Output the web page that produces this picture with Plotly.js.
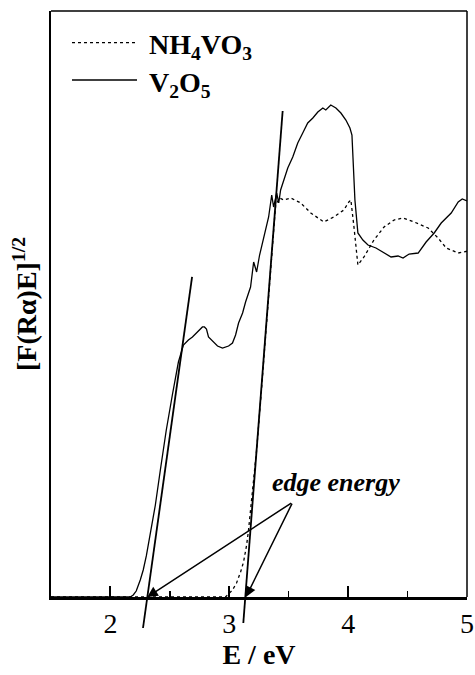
<!DOCTYPE html>
<html>
<head>
<meta charset="utf-8">
<script src="https://cdn.plot.ly/plotly-3.0.1.min.js"></script>
<style>html,body{margin:0;padding:0;background:#fff;}#chart{width:475px;height:675px;}</style>
</head>
<body>
<div id="chart"></div>
<script>
// ---- data ----
const seriesNames = ["NH<sub>4</sub>VO<sub>3</sub>", "V<sub>2</sub>O<sub>5</sub>"];

const v2o5E = [1.50, 2.124, 2.167, 2.192, 2.217, 2.251, 2.276, 2.302, 2.335, 2.378, 2.420, 2.470, 2.521, 2.572, 2.614,
  2.656, 2.690, 2.732, 2.774, 2.791, 2.808, 2.825, 2.859, 2.901, 2.943, 2.994, 3.027, 3.053, 3.078, 3.112,
  3.137, 3.162, 3.179, 3.205, 3.230, 3.255, 3.281, 3.306, 3.331, 3.357, 3.373, 3.399, 3.416, 3.432, 3.458,
  3.492, 3.534, 3.576, 3.618, 3.660, 3.703, 3.745, 3.787, 3.812, 3.854, 3.897, 3.939, 3.981, 4.015, 4.032,
  4.057, 4.082, 4.124, 4.167, 4.234, 4.302, 4.361, 4.420, 4.462, 4.513, 4.589, 4.656, 4.724, 4.783, 4.867,
  4.926, 4.960, 5.00];
const v2o5I = [0, 0, 0, 0.34, 1.02, 2.90, 4.61, 7.00, 10.58, 15.70, 21.67, 28.50, 34.47, 40.10, 43.00,
  43.86, 44.37, 45.22, 46.08, 46.08, 45.73, 44.37, 43.69, 42.83, 42.49, 42.83, 43.34, 44.71, 46.76, 48.46,
  50.34, 52.05, 52.90, 57.17, 55.46, 58.36, 60.41, 62.63, 64.85, 68.60, 66.55, 68.94, 67.24, 69.45, 71.16,
  73.21, 75.09, 77.47, 79.18, 80.89, 81.74, 82.76, 83.45, 83.11, 83.96, 83.45, 82.59, 81.40, 80.03, 78.84,
  67.75, 62.12, 60.92, 60.07, 59.56, 58.70, 58.02, 58.19, 57.85, 58.53, 58.70, 60.58, 62.12, 63.82, 65.53,
  67.41, 67.92, 67.6];

const nh4E = [1.50, 2.968, 3.027, 3.061, 3.095, 3.120, 3.146, 3.162, 3.196, 3.230, 3.264, 3.297, 3.331, 3.365,
  3.390, 3.424, 3.458, 3.517, 3.601, 3.686, 3.753, 3.795, 3.880, 3.964, 4.006, 4.023, 4.049, 4.082, 4.133,
  4.217, 4.302, 4.386, 4.462, 4.555, 4.673, 4.757, 4.825, 4.926, 5.00];
const nh4I = [0, 0, 1.19, 2.39, 4.27, 5.97, 8.87, 11.43, 18.26, 25.09, 33.62, 42.15, 51.54, 60.92,
  66.89, 68.09, 67.75, 68.09, 67.24, 65.53, 64.51, 64.00, 64.85, 66.04, 67.41, 67.75, 63.14, 56.66, 58.02,
  60.92, 63.14, 64.33, 64.68, 64.00, 62.97, 61.26, 59.56, 58.70, 59.0];

// tangent lines used to find the edge energies
const tan1E = [2.274, 2.687];
const tan1I = [-5.29, 54.61];
const tan2E = [3.118, 3.449];
const tan2I = [-4.44, 82.94];

// edge energies (arrow targets) and label anchor
const edgeEnergies = [2.31, 3.14];
const edgeLabel = "edge energy";
const edgeLabelPos = [3.897, 19.6];
const edgeArrowTail = [3.534, 16.2];

const xTickVals = [2, 3, 4, 5];
const xTickText = ["2", "3", "4", "5"];
const xRange = [1.5, 5];
const yRange = [0, 100];

// ---- layout geometry ----
const W = 475, H = 675;
const mL = 51, mR = 8, mT = 11, mB = 35;
const plotBottomPx = 597;
const paperH = H - mT - mB;
const mainBottom = (H - mB - plotBottomPx) / paperH;
const pxPerUnitY = (plotBottomPx - mT) / (yRange[1] - yRange[0]);
const y2Range = [yRange[0] - (H - mB - plotBottomPx) / pxPerUnitY, yRange[1]];

const serif = "Liberation Serif, Times New Roman, serif";

const traces = [
  {x: nh4E, y: nh4I, xaxis: 'x', yaxis: 'y', mode: 'lines', name: seriesNames[0],
   line: {color: '#000', width: 1.3, dash: 'dot'}, hoverinfo: 'skip'},
  {x: v2o5E, y: v2o5I, xaxis: 'x', yaxis: 'y', mode: 'lines', name: seriesNames[1],
   line: {color: '#000', width: 1.3}, hoverinfo: 'skip'},
  {x: tan1E, y: tan1I, xaxis: 'x2', yaxis: 'y2', mode: 'lines',
   line: {color: '#000', width: 1.8}, hoverinfo: 'skip'},
  {x: tan2E, y: tan2I, xaxis: 'x2', yaxis: 'y2', mode: 'lines',
   line: {color: '#000', width: 1.8}, hoverinfo: 'skip'}
];

// legend drawn manually (long sample lines as in the reference)
const legRowsPx = [42.7, 80];
const legLineX = [(72 - mL) / (W - mL - mR), (137 - mL) / (W - mL - mR)];
const legTextX = (147 - mL) / (W - mL - mR);
const toPaperY = py => (H - mB - py) / paperH;

const shapes = [
  {type: 'line', xref: 'paper', yref: 'paper', x0: legLineX[0], x1: legLineX[1],
   y0: toPaperY(legRowsPx[0]), y1: toPaperY(legRowsPx[0]), line: {color: '#000', width: 1.3, dash: 'dot'}},
  {type: 'line', xref: 'paper', yref: 'paper', x0: legLineX[0], x1: legLineX[1],
   y0: toPaperY(legRowsPx[1]), y1: toPaperY(legRowsPx[1]), line: {color: '#000', width: 1.3}},
  // top and right frame
  {type: 'line', xref: 'paper', yref: 'paper', x0: 0, x1: 1, y0: 1, y1: 1, line: {color: '#000', width: 1.5}},
  {type: 'line', xref: 'paper', yref: 'paper', x0: 1, x1: 1, y0: mainBottom, y1: 1, line: {color: '#000', width: 1.5}}
];

const annotations = [
  {xref: 'paper', yref: 'paper', x: legTextX, y: toPaperY(legRowsPx[0] + 4), xanchor: 'left', yanchor: 'middle',
   text: '<b>' + seriesNames[0] + '</b>', showarrow: false, font: {family: serif, size: 28, color: '#000'}},
  {xref: 'paper', yref: 'paper', x: legTextX, y: toPaperY(legRowsPx[1] + 4), xanchor: 'left', yanchor: 'middle',
   text: '<b>' + seriesNames[1] + '</b>', showarrow: false, font: {family: serif, size: 28, color: '#000'}},
  {xref: 'x', yref: 'y', x: edgeLabelPos[0], y: edgeLabelPos[1], xanchor: 'center', yanchor: 'middle',
   text: '<b><i>' + edgeLabel + '</i></b>', showarrow: false, font: {family: serif, size: 26, color: '#000'}}
];
edgeEnergies.forEach(e => {
  annotations.push({xref: 'x', yref: 'y', x: e, y: 0, axref: 'x', ayref: 'y',
    ax: edgeArrowTail[0], ay: edgeArrowTail[1], text: '', showarrow: true,
    arrowhead: 2, arrowsize: 1.4, arrowwidth: 1.5, arrowcolor: '#000', standoff: 0, startstandoff: 0});
});

const layout = {
  width: W, height: H,
  margin: {l: mL, r: mR, t: mT, b: mB, pad: 0},
  paper_bgcolor: '#fff', plot_bgcolor: 'rgba(0,0,0,0)',
  showlegend: false,
  font: {family: serif, color: '#000'},
  xaxis: {domain: [0, 1], anchor: 'y', range: xRange, tickvals: xTickVals, ticktext: xTickText,
    ticks: 'inside', ticklen: 11, tickwidth: 2, tickcolor: '#000',
    minor: {ticks: 'inside', ticklen: 6, tickwidth: 1.5, dtick: 0.5, tick0: 0, tickcolor: '#000'},
    showline: true, linecolor: '#000', linewidth: 2.5, mirror: false, showgrid: false, zeroline: false,
    tickfont: {family: serif, size: 28, color: '#000'},
    title: {text: '<b>E / eV</b>', font: {family: serif, size: 28, color: '#000'}, standoff: 4},
    automargin: false},
  yaxis: {domain: [mainBottom, 1], anchor: 'x', range: yRange, showticklabels: false, ticks: '',
    showline: true, linecolor: '#000', linewidth: 1.8, mirror: false, showgrid: false, zeroline: false,
    title: {text: '<b>[F(Rα)E]<sup>1/2</sup></b>', font: {family: serif, size: 28, color: '#000'}, standoff: 4},
    automargin: false},
  xaxis2: {domain: [0, 1], anchor: 'y2', range: xRange, visible: false, showgrid: false, zeroline: false},
  yaxis2: {domain: [0, 1], anchor: 'x2', range: y2Range, visible: false, showgrid: false, zeroline: false},
  shapes: shapes,
  annotations: annotations
};

Plotly.newPlot('chart', traces, layout, {staticPlot: true, displayModeBar: false});
</script>
</body>
</html>
